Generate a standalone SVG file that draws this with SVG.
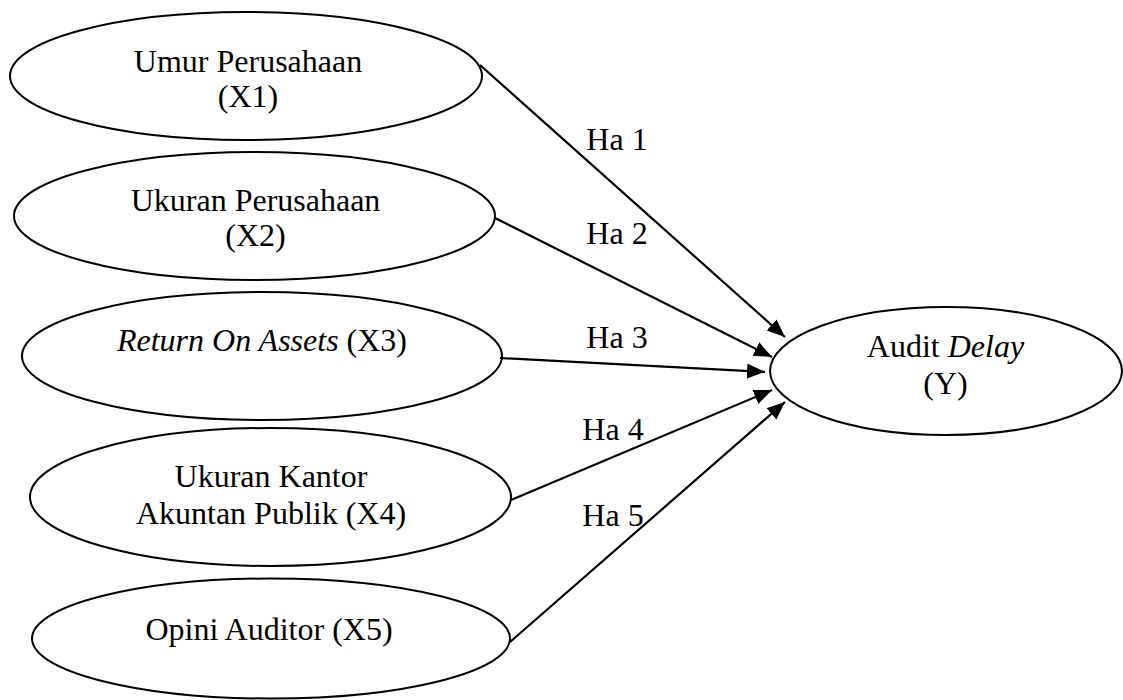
<svg xmlns="http://www.w3.org/2000/svg" width="1123" height="700" viewBox="0 0 1123 700">
<style>
.node ellipse{fill:#fff;stroke:#000;stroke-width:2}
text{font-family:'Liberation Serif','Times New Roman','DejaVu Serif',serif;font-size:32px;fill:#000;text-anchor:middle}
.it{font-style:italic}
.edge{stroke:#000;stroke-width:2.2;fill:none;marker-end:url(#arr)}
</style>
<defs>
<marker id="arr" markerUnits="userSpaceOnUse" markerWidth="20" markerHeight="16" refX="18" refY="7.5" orient="auto">
<path d="M0,0 L18,7.5 L0,15 z" fill="#000"/>
</marker>
</defs>
<rect width="1123" height="700" fill="#fff"/>
<g id="n1" class="node" font-family="Liberation Serif, serif"><ellipse cx="246" cy="76" rx="236" ry="64"/><text x="248" y="72">Umur Perusahaan</text><text x="248" y="107">(X1)</text></g>
<g id="n2" class="node" font-family="Liberation Serif, serif"><ellipse cx="254.5" cy="216" rx="240.5" ry="64"/><text x="255.5" y="211">Ukuran Perusahaan</text><text x="255.5" y="246">(X2)</text></g>
<g id="n3" class="node" font-family="Liberation Serif, serif"><ellipse cx="262" cy="356" rx="240" ry="64"/><text x="262" y="351"><tspan class="it">Return On Assets</tspan> (X3)</text></g>
<g id="n4" class="node" font-family="Liberation Serif, serif"><ellipse cx="270.5" cy="497" rx="240.5" ry="69"/><text x="271" y="487">Ukuran Kantor</text><text x="271" y="524">Akuntan Publik (X4)</text></g>
<g id="n5" class="node" font-family="Liberation Serif, serif"><ellipse cx="271" cy="638.5" rx="239" ry="60"/><text x="269" y="640">Opini Auditor (X5)</text></g>
<g id="y" class="node" font-family="Liberation Serif, serif"><ellipse cx="946" cy="371" rx="176" ry="64"/><text x="945.5" y="357">Audit <tspan class="it">Delay</tspan></text><text x="945.5" y="394">(Y)</text></g>
<g id="connectors">
<line class="edge" x1="480" y1="65" x2="785" y2="337"/>
<line class="edge" x1="495" y1="218" x2="772" y2="357"/>
<line class="edge" x1="500" y1="358" x2="765" y2="372"/>
<line class="edge" x1="511" y1="500" x2="772" y2="390"/>
<line class="edge" x1="510" y1="642" x2="785" y2="402"/>
<text x="617" y="150">Ha 1</text>
<text x="617" y="244">Ha 2</text>
<text x="617" y="348">Ha 3</text>
<text x="613" y="440">Ha 4</text>
<text x="613" y="526">Ha 5</text>
</g>
</svg>
